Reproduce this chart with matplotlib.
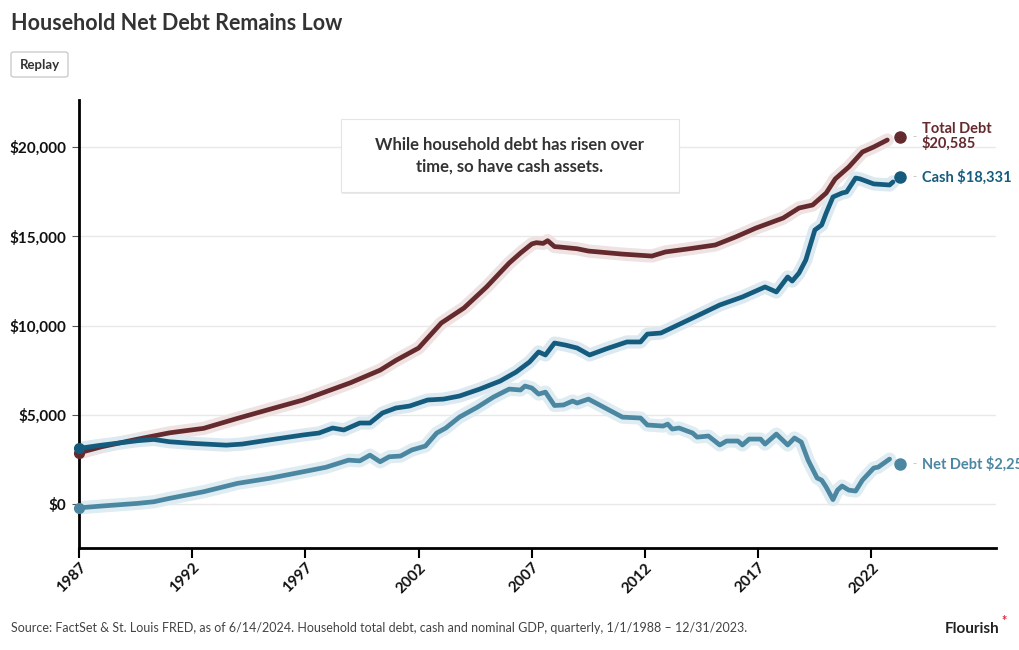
import numpy as np
import matplotlib
matplotlib.use('Agg')
import matplotlib.pyplot as plt
from matplotlib.patches import FancyBboxPatch

# Data (quarterly-ish, in dollars per household)
#####################################################
debt_years = [1987.0, 1988.0, 1989.6, 1991.0, 1992.5, 1994.0, 1995.4, 1996.9, 1997.9, 1999.0,
              2000.3, 2001.0, 2002.0, 2003.0, 2004.0, 2005.0, 2006.0, 2006.5, 2007.0, 2007.2,
              2007.5, 2007.7, 2008.0, 2008.2, 2009.0, 2009.5, 2011.0, 2012.3, 2012.9, 2013.9,
              2015.1, 2016.0, 2016.9, 2018.1, 2018.8, 2019.4, 2020.0, 2020.4, 2021.0, 2021.6,
              2022.1, 2022.7]
debt_vals = [2870, 3210, 3640, 3990, 4240, 4800, 5300, 5830, 6290, 6800,
             7500, 8050, 8740, 10140, 10980, 12160, 13500, 14060, 14570, 14640,
             14600, 14750, 14420, 14400, 14300, 14170, 14000, 13890, 14120, 14290,
             14510, 14960, 15460, 16020, 16580, 16750, 17420, 18210, 18880, 19720,
             20000, 20390]

cash_years = [1987.0, 1988.0, 1989.6, 1990.3, 1991.0, 1992.0, 1993.5, 1994.2, 1995.4, 1996.9,
              1997.6, 1998.2, 1998.7, 1999.4, 1999.85, 2000.4, 2001.0, 2001.6, 2002.4, 2003.1,
              2003.8, 2004.7, 2005.6, 2006.3, 2006.9, 2007.3, 2007.6, 2008.0, 2008.5, 2009.0,
              2009.55, 2010.3, 2011.2, 2011.8, 2012.1, 2012.7, 2014.1, 2015.3, 2016.3, 2017.3,
              2017.8, 2018.3, 2018.5, 2018.8, 2019.1, 2019.5, 2019.8, 2020.0, 2020.3, 2020.7,
              2020.9, 2021.3, 2021.5, 2022.1, 2022.8, 2022.95]
cash_vals = [3120, 3300, 3550, 3620, 3490, 3400, 3300, 3360, 3590, 3870,
             3980, 4260, 4150, 4540, 4540, 5100, 5380, 5490, 5830, 5880,
             6050, 6440, 6890, 7390, 7960, 8520, 8350, 9020, 8900, 8740,
             8350, 8700, 9080, 9080, 9520, 9580, 10420, 11150, 11600, 12160,
             11880, 12720, 12490, 12940, 13670, 15350, 15630, 16300, 17200, 17420,
             17480, 18260, 18210, 17930, 17870, 18040]

net_years = [1987.0, 1988.0, 1989.6, 1990.3, 1991.0, 1992.5, 1994.0, 1995.4, 1996.9, 1997.9,
             1998.9, 1999.4, 1999.85, 2000.3, 2000.7, 2001.2, 2001.7, 2002.3, 2002.8, 2003.2,
             2003.8, 2004.6, 2005.3, 2006.0, 2006.5, 2006.7, 2007.0, 2007.3, 2007.6, 2008.0,
             2008.4, 2008.8, 2009.0, 2009.5, 2011.0, 2011.8, 2012.1, 2012.8, 2013.0, 2013.2,
             2013.5, 2014.1, 2014.3, 2014.8, 2015.3, 2015.6, 2016.1, 2016.3, 2016.6, 2017.1,
             2017.3, 2017.8, 2018.3, 2018.6, 2018.9, 2019.2, 2019.6, 2019.8, 2020.0, 2020.3,
             2020.5, 2020.7, 2021.0, 2021.3, 2021.6, 2022.1, 2022.3, 2022.8]
net_vals = [-210, -110, 40, 130, 320, 690, 1160, 1440, 1810, 2060,
            2460, 2420, 2740, 2370, 2650, 2690, 3030, 3250, 3980, 4260,
            4870, 5430, 5990, 6440, 6390, 6610, 6500, 6160, 6270, 5520,
            5550, 5770, 5660, 5880, 4870, 4820, 4430, 4370, 4480, 4200,
            4260, 3980, 3750, 3810, 3310, 3530, 3530, 3310, 3640, 3640,
            3360, 3920, 3310, 3700, 3470, 2460, 1460, 1340, 950, 250,
            780, 1010, 780, 730, 1340, 2020, 2070, 2520]

# last values, shown as end markers + labels
end_year = 2023.25
end_vals = [20585, 18331, 2254]
end_labels = ['Total Debt\n$20,585', 'Cash $18,331', 'Net Debt $2,254']

xtick_years = [1987, 1992, 1997, 2002, 2007, 2012, 2017, 2022]
ytick_vals = [0, 5000, 10000, 15000, 20000]

# Styles
#####################################################
c_debt = '#652a2d'
c_cash = '#155b7d'
c_net = '#4c87a2'
halo = {c_debt: '#efe2e2', c_cash: '#dce9f1', c_net: '#dfecf2'}
txt = '#333333'

plt.rcParams['font.family'] = ['Lato', 'DejaVu Sans']

fig = plt.figure(figsize=(10.2, 6.5), dpi=100)
ax = fig.add_axes([79/1020, 1-548/650, (996-79)/1020, (548-100)/650])

series = [(debt_years, debt_vals, c_debt), (cash_years, cash_vals, c_cash), (net_years, net_vals, c_net)]
for xs, ys, col in series:
  ax.plot(xs, ys, color=halo[col], lw=9.5, solid_capstyle='round', solid_joinstyle='round', zorder=2)
for xs, ys, col in series:
  ax.plot(xs, ys, color=col, lw=3.4, solid_capstyle='round', solid_joinstyle='round', zorder=3)
  ax.plot(xs[0], ys[0], 'o', color=col, ms=7, zorder=4, clip_on=False)

for (xs, ys, col), v, lab in zip(series, end_vals, end_labels):
  ax.plot(end_year, v, 'o', color=col, ms=8, zorder=4, clip_on=False)
  ax.annotate('-', (end_year, v), xytext=(9, 0), textcoords='offset points',
              color='#bbbbbb', fontsize=8, va='center', ha='left', annotation_clip=False)
  ax.annotate(lab, (end_year, v), xytext=(16, 0), textcoords='offset points',
              color=col, fontsize=10.5, fontweight='bold', va='center', ha='left',
              linespacing=0.95, annotation_clip=False)

ax.set_xlim(1987, 2027.5)
ax.set_ylim(-2460, 22630)
ax.set_xticks(xtick_years)
ax.set_xticklabels([str(y) for y in xtick_years], rotation=45, ha='right', rotation_mode='anchor',
                   fontsize=11, fontweight='bold', color='#111111')
ax.set_yticks(ytick_vals)
ax.set_yticklabels(['${:,}'.format(v) for v in ytick_vals], fontsize=11, fontweight='bold', color='#111111')
ax.tick_params(axis='x', length=7, width=1.5, pad=2)
ax.tick_params(axis='y', length=5, width=0.8, color='#555555', pad=4)
ax.grid(axis='y', color='#e9e9e9', lw=1)
ax.set_axisbelow(True)
for s in ['top', 'right']:
  ax.spines[s].set_visible(False)
ax.spines['left'].set_linewidth(2)
ax.spines['bottom'].set_linewidth(2)

# Annotation box
#####################################################
bx0, by0, bw, bh = 341/1020, 1-192/650, 338/1020, 73/650
shadow = FancyBboxPatch((bx0+1/1020, by0-2/650), bw, bh, boxstyle='square,pad=0', transform=fig.transFigure,
                        facecolor='#dddddd', edgecolor='none', alpha=0.6, zorder=5)
box = FancyBboxPatch((bx0, by0), bw, bh, boxstyle='square,pad=0', transform=fig.transFigure,
                     facecolor='white', edgecolor='#e4e4e4', lw=0.8, zorder=6)
fig.patches.extend([shadow, box])
fig.text(510/1020, 1-156/650, 'While household debt has risen over\ntime, so have cash assets.',
         ha='center', va='center', fontsize=12, fontweight='bold', color=txt, linespacing=1.45, zorder=7)

# Title, replay button, footer
#####################################################
fig.text(11/1020, 1-24/650, 'Household Net Debt Remains Low', fontsize=15.5, fontweight='bold',
         color=txt, va='center', ha='left')
btn = FancyBboxPatch((11/1020, 1-77/650), 57/1020, 25/650, boxstyle='round,pad=0,rounding_size=0.003',
                     transform=fig.transFigure, facecolor='white', edgecolor='#cccccc', lw=1)
fig.patches.append(btn)
fig.text(39.5/1020, 1-65/650, 'Replay', fontsize=9.5, fontweight='bold', color=txt, ha='center', va='center')

fig.text(11/1020, 1-628/650,
         'Source: FactSet & St. Louis FRED, as of 6/14/2024. Household total debt, cash and nominal GDP, quarterly, 1/1/1988 \u2013 12/31/2023.',
         fontsize=9, color='#444444', ha='left', va='center')
fig.text(1000/1020, 1-629/650, 'Flourish', fontsize=11, fontweight='bold', color='#222222', ha='right', va='center')
fig.text(1001/1020, 1-621/650, '*', fontsize=9, fontweight='bold', color='#e0243c', ha='left', va='center')

fig.savefig('out.png', dpi=100)
